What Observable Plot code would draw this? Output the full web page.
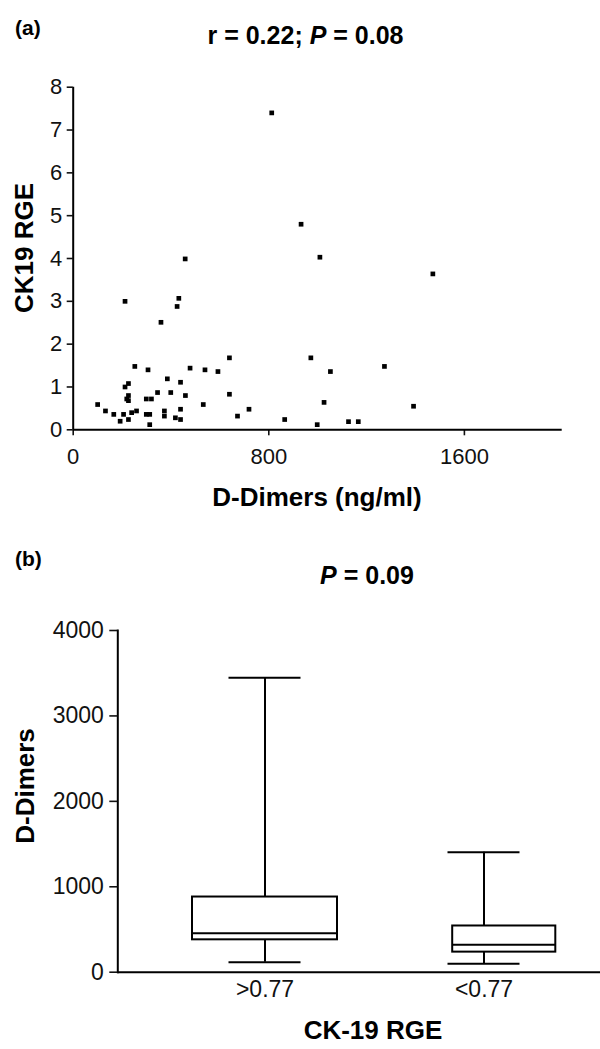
<!DOCTYPE html>
<html><head><meta charset="utf-8">
<script src="https://cdn.jsdelivr.net/npm/d3@7"></script>
<script src="https://cdn.jsdelivr.net/npm/@observablehq/plot@0.6"></script>
<style>
body{margin:0;background:#fff;}
#wrap{position:relative;width:600px;height:1049px;overflow:hidden;font-family:"Liberation Sans",Arial,Helvetica,sans-serif;background:#fff;}
.t{position:absolute;white-space:nowrap;line-height:1;color:#000;}
.b{font-weight:bold;}
.c{transform:translateX(-50%);}
.rot{transform:translate(-50%,-50%) rotate(-90deg);}
#wrap svg{position:absolute;left:0;}
</style></head><body><div id="wrap"></div><script>
// Panel (a): scatter of D-Dimers (ng/ml) vs CK19 RGE
const dDimers = [812, 932, 1009, 458, 212, 432, 425, 359, 639, 972, 252, 306, 478, 539, 592, 385, 439, 226, 212, 345, 399, 226, 459, 639, 219, 226, 299, 320, 100, 532, 132, 239, 259, 373, 439, 719, 166, 206, 299, 313, 373, 672, 192, 226, 418, 439, 313, 865, 998, 1471, 1052, 1273, 1026, 1392, 1126, 1166];
const ck19RGE = [7.40, 4.80, 4.03, 3.99, 3.00, 3.07, 2.88, 2.51, 1.68, 1.68, 1.48, 1.40, 1.44, 1.40, 1.36, 1.19, 1.11, 1.08, 1.00, 0.87, 0.87, 0.80, 0.80, 0.83, 0.72, 0.68, 0.72, 0.72, 0.59, 0.59, 0.44, 0.40, 0.44, 0.44, 0.48, 0.48, 0.36, 0.36, 0.36, 0.36, 0.32, 0.32, 0.20, 0.24, 0.28, 0.24, 0.12, 0.24, 0.12, 3.64, 1.36, 1.48, 0.64, 0.55, 0.19, 0.19];
const xTicksA = [0, 800, 1600];
const yTicksA = [0, 1, 2, 3, 4, 5, 6, 7, 8];

// Panel (b): box plot of D-Dimers by CK-19 RGE group
const groups = [">0.77", "<0.77"];
const whiskerLow = [117, 98];
const q1 = [379, 235];
const median = [457, 322];
const q3 = [880, 541];
const whiskerHigh = [3447, 1404];
const yTicksB = [0, 1000, 2000, 3000, 4000];

const pts = dDimers.map((d, i) => ({d, c: ck19RGE[i]}));
const box = groups.map((g, i) => ({g, lo: whiskerLow[i], q1: q1[i], med: median[i], q3: q3[i], hi: whiskerHigh[i]}));

const wrap = document.getElementById("wrap");
const fam = "'Liberation Sans', Arial, Helvetica, sans-serif";

const chartA = Plot.plot({
  width: 600, height: 420,
  marginTop: 26.7, marginBottom: 50.7, marginLeft: 72.7, marginRight: 38.3,
  style: {fontFamily: fam, fontSize: "22px", color: "#111", background: "transparent", overflow: "visible"},
  x: {domain: [0, 2000]},
  y: {domain: [0, 8]},
  marks: [
    Plot.axisX(xTicksA, {tickSize: 6, tickPadding: 13, label: null, strokeWidth: 1.6, tickFormat: d => String(d)}),
    Plot.axisY(yTicksA, {tickSize: 6, tickPadding: 5, label: null, strokeWidth: 1.6, tickFormat: d => String(d)}),
    Plot.ruleX([0], {stroke: "#000", strokeWidth: 2}),
    Plot.ruleY([0], {stroke: "#000", strokeWidth: 2}),
    Plot.dot(pts, {x: "d", y: "c", symbol: "square", r: 2.65, fill: "#000", stroke: "none"})
  ]
});
chartA.style.top = "60px";
wrap.appendChild(chartA);

const first = box.filter(d => d.g === groups[0]);
const second = box.filter(d => d.g === groups[1]);

const chartB = Plot.plot({
  width: 600, height: 509,
  marginTop: 90, marginBottom: 77.3, marginLeft: 117.3, marginRight: 0,
  style: {fontFamily: fam, fontSize: "23px", color: "#111", background: "transparent", overflow: "visible"},
  x: {type: "band", domain: groups, paddingInner: 0.336, paddingOuter: 0.266, align: 0.63},
  y: {domain: [0, 4000]},
  marks: [
    Plot.frame({anchor: "left", stroke: "#000", strokeWidth: 2}),
    Plot.ruleY([0], {stroke: "#000", strokeWidth: 2}),
    Plot.axisY(yTicksB, {tickSize: 8, tickPadding: 6, label: null, strokeWidth: 1.6, tickFormat: d => String(d)}),
    Plot.axisX({tickSize: 0, tickPadding: 8, label: null}),
    Plot.ruleX(box, {x: "g", y1: "lo", y2: "hi", stroke: "#000", strokeWidth: 2}),
    Plot.barY(first, {x: "g", y1: "q1", y2: "q3", fill: "#fff", stroke: "#000", strokeWidth: 2}),
    Plot.barY(second, {x: "g", y1: "q1", y2: "q3", fill: "#fff", stroke: "#000", strokeWidth: 2, insetLeft: 41.2, insetRight: 0.7}),
    Plot.tickY(first, {x: "g", y: "med", stroke: "#000", strokeWidth: 2}),
    Plot.tickY(second, {x: "g", y: "med", stroke: "#000", strokeWidth: 2, insetLeft: 41.2, insetRight: 0.7}),
    Plot.tickY(box, {x: "g", y: "lo", stroke: "#000", strokeWidth: 2, inset: 36.5}),
    Plot.tickY(box, {x: "g", y: "hi", stroke: "#000", strokeWidth: 2, inset: 36.5})
  ]
});
chartB.style.top = "540px";
wrap.appendChild(chartB);

function label(html, cls, css) {
  const el = document.createElement("div");
  el.className = "t " + cls;
  el.innerHTML = html;
  Object.assign(el.style, css);
  wrap.appendChild(el);
}
label("(a)", "b", {left: "15px", top: "17px", fontSize: "21px"});
label("r = 0.22; <i>P</i> = 0.08", "b c", {left: "305.5px", top: "22.7px", fontSize: "25px"});
label("D-Dimers (ng/ml)", "b c", {left: "317px", top: "483.6px", fontSize: "26px"});
label("CK19 RGE", "b rot", {left: "24px", top: "248px", fontSize: "26px"});
label("(b)", "b", {left: "15px", top: "547.5px", fontSize: "21px"});
label("<i>P</i> = 0.09", "b c", {left: "367px", top: "562.7px", fontSize: "25px"});
label("D-Dimers", "b rot", {left: "25px", top: "786px", fontSize: "26px"});
label("CK-19 RGE", "b c", {left: "373px", top: "1016.6px", fontSize: "26px"});
</script></body></html>
